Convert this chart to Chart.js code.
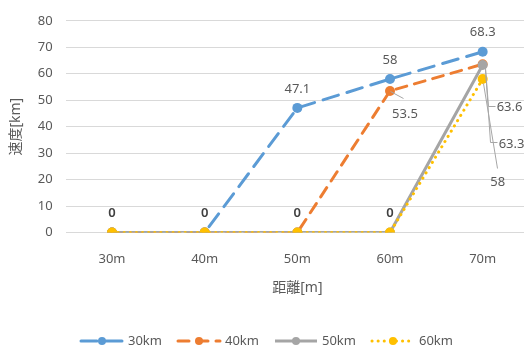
<!DOCTYPE html>
<html>
<head>
<meta charset="utf-8">
<script src="https://cdn.jsdelivr.net/npm/chart.js@4"></script>
<style>
  html, body { margin: 0; padding: 0; background: #fff; overflow: hidden; }
  #wrap { width: 534px; height: 349px; }
</style>
</head>
<body>
<div id="wrap"><canvas id="chart"></canvas></div>
<script>
// data
const distances = ['30m', '40m', '50m', '60m', '70m'];
const speed30 = [0, 0, 47.1, 58, 68.3];
const speed40 = [0, 0, 0, 53.5, 63.6];
const speed50 = [0, 0, 0, 0, 63.3];
const speed60 = [0, 0, 0, 0, 58];
const seriesNames = ['30km', '40km', '50km', '60km'];

const FONT = "'Noto Sans', 'Noto Sans CJK JP', sans-serif";
const GREY = '#595959';

// label placement per series: index -> offset from the point, optional leader line
const labelSpots = [
  { 2: { dx: 0, dy: -19 }, 3: { dx: 0, dy: -19 }, 4: { dx: 0, dy: -19 } },
  { 3: { dx: 15, dy: 23, lead: [[0, 0], [13, 7]] },
    4: { dx: 14, dy: 43, left: true, lead: [[2, 4], [5, 42], [12, 42]] } },
  { 4: { dx: 16, dy: 79, left: true, lead: [[2, 4], [7, 77], [14, 77]] } },
  { 0: { dx: 0, dy: -19, dark: true }, 1: { dx: 0, dy: -19, dark: true },
    2: { dx: 0, dy: -19, dark: true }, 3: { dx: 0, dy: -19, dark: true },
    4: { dx: 15, dy: 103, lead: [[0, 4], [14, 89]] } }
];

const pointLabels = {
  id: 'pointLabels',
  afterDatasetsDraw(chart) {
    const ctx = chart.ctx;
    ctx.save();
    chart.data.datasets.forEach((ds, i) => {
      const meta = chart.getDatasetMeta(i);
      const spots = labelSpots[i];
      Object.keys(spots).forEach(k => {
        const s = spots[k];
        const pt = meta.data[k];
        if (s.lead) {
          ctx.strokeStyle = '#a6a6a6';
          ctx.lineWidth = 1;
          ctx.beginPath();
          s.lead.forEach((p, j) => {
            const x = Math.round(pt.x + p[0]) + 0.5, y = Math.round(pt.y + p[1]) + 0.5;
            if (j === 0) ctx.moveTo(x, y); else ctx.lineTo(x, y);
          });
          ctx.stroke();
        }
        ctx.font = (s.dark ? '600 ' : '') + '13px ' + FONT;
        ctx.fillStyle = s.dark ? '#404040' : GREY;
        ctx.textAlign = s.left ? 'left' : 'center';
        ctx.textBaseline = 'middle';
        ctx.fillText(String(ds.data[k]), pt.x + s.dx, pt.y + s.dy);
      });
    });
    ctx.restore();
  }
};

const bottomLegend = {
  id: 'bottomLegend',
  afterDraw(chart) {
    const ctx = chart.ctx;
    const y = 341;
    const starts = [81, 178, 275, 372];
    ctx.save();
    chart.data.datasets.forEach((ds, i) => {
      const x0 = starts[i];
      ctx.strokeStyle = ds.borderColor;
      ctx.lineWidth = 3;
      ctx.lineCap = ds.borderCapStyle || 'butt';
      ctx.setLineDash(ds.borderDash || []);
      ctx.beginPath();
      ctx.moveTo(x0, y);
      ctx.lineTo(x0 + 42, y);
      ctx.stroke();
      ctx.setLineDash([]);
      ctx.fillStyle = ds.borderColor;
      ctx.beginPath();
      ctx.arc(x0 + 21, y, 4, 0, Math.PI * 2);
      ctx.fill();
      ctx.font = '13px ' + FONT;
      ctx.fillStyle = GREY;
      ctx.textAlign = 'left';
      ctx.textBaseline = 'middle';
      ctx.fillText(seriesNames[i], x0 + 47, y);
    });
    ctx.restore();
  }
};

const mkSet = (label, data, color, dash, cap, order) => ({
  label, data, order,
  borderColor: color, backgroundColor: color,
  borderWidth: 3, borderDash: dash, borderCapStyle: cap,
  pointRadius: 5, pointHoverRadius: 5,
  pointBorderWidth: 0, pointBackgroundColor: color,
  tension: 0
});

new Chart(document.getElementById('chart'), {
  type: 'line',
  data: {
    labels: distances,
    datasets: [
      mkSet('30km', speed30, '#5B9BD5', [16, 9], 'round', 3),
      mkSet('40km', speed40, '#ED7D31', [11, 8], 'round', 2),
      mkSet('50km', speed50, '#A5A5A5', [], 'butt', 1),
      mkSet('60km', speed60, '#FFC000', [0.1, 6], 'round', 0)
    ]
  },
  options: {
    responsive: true,
    maintainAspectRatio: false,
    animation: false,
    layout: { padding: { top: 3, right: 0, left: 8, bottom: 53 } },
    plugins: {
      legend: { display: false },
      tooltip: { enabled: false }
    },
    scales: {
      x: {
        offset: true,
        grid: { display: false, drawTicks: false },
        border: { display: false },
        ticks: { color: GREY, font: { family: FONT, size: 13 }, padding: 19 },
        title: { display: true, text: '距離[m]', color: GREY,
                 font: { family: FONT, size: 14 }, padding: { top: -7, bottom: 0 } }
      },
      y: {
        min: 0, max: 80,
        ticks: { stepSize: 10, color: GREY, font: { family: FONT, size: 13 }, padding: 13 },
        grid: { color: '#d9d9d9', drawTicks: false },
        border: { display: false },
        title: { display: true, text: '速度[km]', color: GREY,
                 font: { family: FONT, size: 14 }, padding: { top: 0, bottom: 0 } }
      }
    }
  },
  plugins: [pointLabels, bottomLegend]
});
</script>
</body>
</html>
